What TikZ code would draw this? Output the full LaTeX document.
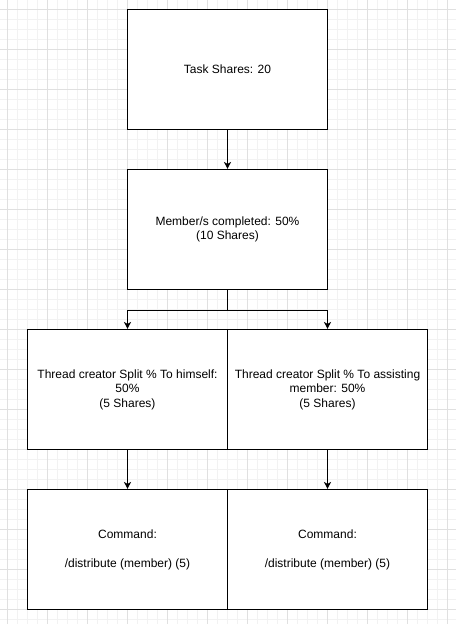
\documentclass[tikz,border=0pt]{standalone}
\usepackage{fontspec}
\setmainfont{Liberation Sans}
\usetikzlibrary{arrows.meta,positioning}

\tikzset{
  box/.style={draw=black, line width=1.1pt, fill=white, minimum width=200pt,
    minimum height=120pt, inner sep=0pt, align=center,
    font=\fontsize{12}{14.5}\selectfont},
  link/.style={-{Stealth[length=7pt,width=7pt,inset=2pt]}, line width=1.1pt},
  minorline/.style={draw=black!5, line width=0.7pt},
  majorline/.style={draw=black!12, line width=0.8pt},
}

\begin{document}
\begin{tikzpicture}[x=1pt, y=-1pt]
        \useasboundingbox (0,0) rectangle (456,624);

        % the background grid
        \foreach \x in {7.5,17.5,...,450} \draw[minorline] (\x,0) -- (\x,624);
        \foreach \y in {9.5,19.5,...,620} \draw[minorline] (0,\y) -- (456,\y);
        \foreach \x in {7.5,47.5,...,450} \draw[majorline] (\x,0) -- (\x,624);
        \foreach \y in {9.5,49.5,...,620} \draw[majorline] (0,\y) -- (456,\y);

        % the boxes
        \node[box] (task) at (227.5,69.5) {Task Shares: 20};
        \node[box] (member) at (227.5,229.5) {Member/s completed: 50\%\\(10 Shares)};
        \node[box] (himself) at (127.5,389.5) {Thread creator Split \% To himself:\\50\%\\(5 Shares)};
        \node[box] (assist) at (327.5,389.5) {Thread creator Split \% To assisting\\member: 50\%\\(5 Shares)};
        \node[box] (cmdA) at (127.5,549.5) {Command:\\[14.5pt]/distribute (member) (5)};
        \node[box] (cmdB) at (327.5,549.5) {Command:\\[14.5pt]/distribute (member) (5)};

        % the point where the line splits in two
        \coordinate[below=20pt of member.south] (fork);

        % draw the arrows
        \draw[link] (task) -- (member);
        \draw[line width=1.1pt] (member) -- (fork);
        \draw[link] (fork) -| (himself.north);
        \draw[link] (fork) -| (assist.north);
        \draw[link] (himself) -- (cmdA);
        \draw[link] (assist) -- (cmdB);

\end{tikzpicture}
\end{document}
